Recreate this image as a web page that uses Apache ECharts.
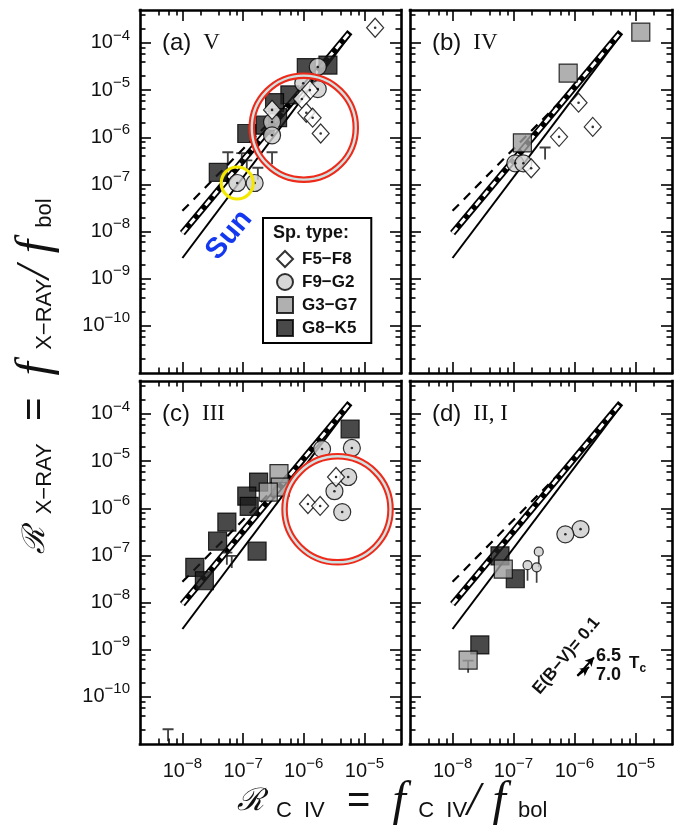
<!DOCTYPE html>
<html>
<head>
<meta charset="utf-8">
<script src="https://cdn.jsdelivr.net/npm/echarts@6/dist/echarts.min.js"></script>
<style>
  html, body { margin: 0; padding: 0; background: #fff; }
  #chart { width: 674px; height: 829px; }
</style>
</head>
<body>
<div id="chart"></div>
<script>
// ---- Axis ranges and tick labels (decades) ----
const xRange = [2e-9, 4e-5];
const yRange = [1e-11, 5e-4];
const xTickExponents = [-8, -7, -6, -5];
const yTickExponents = [-10, -9, -8, -7, -6, -5, -4];
const minorMultiples = [2, 4, 6, 8];

// ---- Spectral-type groups ----
const spTypes = ['F5−F8', 'F9−G2', 'G3−G7', 'G8−K5'];

// ---- (a) luminosity class V : [R_CIV, R_XRAY] ----
const aF5F8 = [[1.5e-5, 2.1e-4], [1.26e-6, 1.0e-5], [9.3e-7, 6.5e-6], [1.1e-6, 3.3e-6], [1.4e-6, 2.6e-6], [1.9e-6, 1.2e-6], [3.0e-7, 3.8e-6]];
const aF9G2 = [[1.7e-6, 3.1e-5], [9.8e-7, 1.4e-5], [1.7e-6, 1.05e-5], [3.0e-7, 2.1e-6], [3.0e-7, 1.1e-6], [8.0e-8, 1.07e-7], [1.55e-7, 1.07e-7]];
const aG3G7 = [];
const aG8K5 = [[1.1e-6, 3.0e-5], [2.5e-6, 3.4e-5], [5.9e-7, 7.9e-6], [3.3e-7, 5.4e-6], [3.7e-7, 2.6e-6], [2.3e-7, 1.8e-6], [1.15e-7, 1.2e-6], [3.9e-8, 1.8e-7]];
const aUpperLimits = [[5.6e-8, 4.9e-7], [9.5e-8, 4.7e-7], [3.0e-7, 4.9e-7], [1.15e-7, 3.3e-7], [1.75e-7, 2.3e-7]];
const sunPoint = [8.0e-8, 1.07e-7];

// ---- (b) class IV ----
const bF5F8 = [[1.17e-6, 5.4e-6], [2.0e-6, 1.66e-6], [5.6e-7, 1.02e-6], [1.95e-7, 2.2e-7]];
const bF9G2 = [[1.07e-7, 2.8e-7], [1.45e-7, 2.8e-7]];
const bG3G7 = [[1.23e-5, 1.7e-4], [7.9e-7, 2.3e-5], [1.4e-7, 7.6e-7]];
const bG8K5 = [];
const bUpperLimits = [[3.3e-7, 6.2e-7]];

// ---- (c) class III ----
const cF5F8 = [[3.4e-6, 4.6e-6], [1.17e-6, 1.23e-6], [1.86e-6, 1.12e-6]];
const cF9G2 = [[2.0e-6, 1.8e-5], [6.2e-6, 1.9e-5], [5.4e-6, 4.6e-6], [3.2e-6, 2.3e-6], [4.3e-6, 8.3e-7]];
const cG3G7 = [[3.9e-7, 5.4e-6], [4.1e-7, 2.8e-6], [2.6e-7, 2.2e-6]];
const cG8K5 = [[5.8e-6, 4.8e-5], [1.8e-7, 3.6e-6], [1.15e-7, 1.8e-6], [1.26e-7, 1.1e-6], [5.4e-8, 5.1e-7], [3.8e-8, 2.0e-7], [1.7e-7, 1.23e-7], [1.6e-8, 5.6e-8], [2.3e-8, 2.9e-8]];
const cUpperLimits = [[5.4e-8, 1.17e-7], [6.5e-8, 1.0e-7], [5.8e-9, 2.1e-11]];

// ---- (d) classes II, I ----
const dF5F8 = [];
const dF9G2 = [[1.26e-6, 3.6e-7], [7.1e-7, 2.8e-7]];
const dF9G2Limits = [[2.6e-7, 1.2e-7], [1.7e-7, 6.2e-8], [2.4e-7, 5.6e-8]];
const dG3G7 = [[6.8e-8, 5.1e-8], [1.8e-8, 6.0e-10]];
const dG8K5 = [[6.0e-8, 9.8e-8], [1.07e-7, 3.2e-8], [2.8e-8, 1.26e-9]];
const dUpperLimits = [[1.8e-8, 6.0e-10]];

// ---- Fitted relations (same in every panel) ----
const fitSolid = [[1e-8, 2.75e-9], [5.6e-6, 1.4e-4]];
const fitBand = [[1e-8, 9.3e-9], [5.75e-6, 1.7e-4]];
const fitDashed = [[1e-8, 2.75e-8], [6.3e-7, 6.3e-6]];

// ---- Reddening vector E(B−V)=0.1 for Tc = 6.5 and 7.0 ----
const reddenStart = [1.12e-6, 2.8e-10];
const reddenEnd65 = [2.1e-6, 6.9e-10];
const reddenEnd70 = [1.74e-6, 4.3e-10];

const panelNames = [['(a)', 'V'], ['(b)', 'IV'], ['(c)', 'III'], ['(d)', 'II, I']];
const panelData = [
  { 'F5−F8': aF5F8, 'F9−G2': aF9G2, 'G3−G7': aG3G7, 'G8−K5': aG8K5, limits: aUpperLimits },
  { 'F5−F8': bF5F8, 'F9−G2': bF9G2, 'G3−G7': bG3G7, 'G8−K5': bG8K5, limits: bUpperLimits },
  { 'F5−F8': cF5F8, 'F9−G2': cF9G2, 'G3−G7': cG3G7, 'G8−K5': cG8K5, limits: cUpperLimits },
  { 'F5−F8': dF5F8, 'F9−G2': dF9G2, 'G3−G7': dG3G7, 'G8−K5': dG8K5, limits: dUpperLimits }
];

// ---------------------------------------------------------------
const LOG = Math.log10;
const toLog = pts => pts.map(([x, y]) => [LOG(x), LOG(y)]);

const grids = [
  { left: 140, top: 10, width: 261, height: 363 },
  { left: 410, top: 10, width: 262, height: 363 },
  { left: 140, top: 381, width: 261, height: 363 },
  { left: 410, top: 381, width: 262, height: 363 }
];

const symbolStyle = {
  'F5−F8': { symbol: 'diamond', size: [17, 19], color: '#ffffff' },
  'F9−G2': { symbol: 'circle', size: 17, color: '#cdcdcd' },
  'G3−G7': { symbol: 'rect', size: 18, color: '#9c9c9c' },
  'G8−K5': { symbol: 'rect', size: 18, color: '#1c1c1c' }
};
const LIMIT_PATH = 'path://M0,0 H12 V2 H0 Z M5,2 H7 V14 H5 Z';
const STEM_PATH = 'path://M0,0 H2 V10 H0 Z';

function minorTicks(lo, hi) {
  const out = [];
  for (let d = Math.floor(lo); d < hi; d++) {
    for (const m of minorMultiples) {
      const v = d + LOG(m);
      if (v > lo && v < hi) out.push(v);
    }
  }
  return out;
}

const X_MIN = LOG(xRange[0]), X_MAX = LOG(xRange[1]);
const Y_MIN = LOG(yRange[0]), Y_MAX = LOG(yRange[1]);
const xMinor = minorTicks(X_MIN, X_MAX);
const yMinor = minorTicks(Y_MIN, Y_MAX);

const expLabel = (show, exps, margin) => ({
  show,
  customValues: exps,
  margin,
  formatter: v => '{b|10}{s|−' + Math.abs(Math.round(v)) + '}',
  rich: {
    b: { fontFamily: 'Liberation Sans', fontSize: 20, color: '#111' },
    s: { fontFamily: 'Liberation Sans', fontSize: 15, color: '#111', padding: [0, 0, 15, 0] }
  }
});

const frameLine = { show: true, onZero: false, lineStyle: { color: '#000', width: 2.6, cap: 'square' } };
const tickStyle = { color: '#000', width: 1.6 };

function axisSet(dim, p, showLabels) {
  const isX = dim === 'x';
  const base = {
    gridIndex: p, type: 'value',
    min: isX ? X_MIN : Y_MIN, max: isX ? X_MAX : Y_MAX,
    splitLine: { show: false }
  };
  const majors = isX ? xTickExponents : yTickExponents;
  const minors = isX ? xMinor : yMinor;
  const sides = isX ? ['bottom', 'top'] : ['left', 'right'];
  const out = [];
  sides.forEach((side, si) => {
    out.push(Object.assign({}, base, {
      position: side,
      axisLine: frameLine,
      axisTick: { show: true, inside: true, length: 11, customValues: majors, lineStyle: tickStyle },
      axisLabel: si === 0 && showLabels ? expLabel(true, majors, isX ? 12 : 10) : { show: false }
    }));
    out.push(Object.assign({}, base, {
      position: side,
      axisLine: { show: false, onZero: false },
      axisTick: { show: true, inside: true, length: 5.5, customValues: minors, lineStyle: tickStyle },
      axisLabel: { show: false }
    }));
  });
  return out;
}

const xAxes = [], yAxes = [], series = [];
grids.forEach((g, p) => {
  xAxes.push(...axisSet('x', p, p >= 2));
  yAxes.push(...axisSet('y', p, p % 2 === 0));
  const ax = { xAxisIndex: p * 4, yAxisIndex: p * 4 };

  // fitted relations
  series.push(Object.assign({ type: 'line', data: toLog(fitSolid), symbol: 'none', silent: true, z: 2,
    lineStyle: { color: '#000', width: 2 } }, ax));
  series.push(Object.assign({ type: 'line', data: toLog(fitDashed), symbol: 'none', silent: true, z: 2,
    lineStyle: { color: '#000', width: 2.2, type: [9, 7] } }, ax));
  series.push(Object.assign({ type: 'line', data: toLog(fitBand), symbol: 'none', silent: true, z: 2,
    lineStyle: { color: '#000', width: 6.6, cap: 'butt' } }, ax));
  series.push(Object.assign({ type: 'line', data: toLog(fitBand), symbol: 'none', silent: true, z: 2,
    lineStyle: { color: '#fff', width: 3, type: [7, 5], cap: 'butt' } }, ax));

  // upper limits
  series.push(Object.assign({ type: 'scatter', name: 'upper limit', data: toLog(panelData[p].limits),
    symbol: LIMIT_PATH, symbolSize: [11, 13], symbolOffset: [0, 6], z: 4,
    itemStyle: { color: '#111' } }, ax));

  // stars by spectral type (squares first, diamonds on top)
  ['G8−K5', 'G3−G7', 'F9−G2', 'F5−F8'].forEach(t => {
    const st = symbolStyle[t];
    series.push(Object.assign({ type: 'scatter', name: t, data: toLog(panelData[p][t]),
      symbol: st.symbol, symbolSize: st.size, z: 5,
      itemStyle: { color: st.color, borderColor: '#000', borderWidth: 1.2 } }, ax));
    if (t === 'F5−F8' || t === 'F9−G2') {
      // small centre dot drawn in the open symbols
      series.push(Object.assign({ type: 'scatter', name: t, data: toLog(panelData[p][t]),
        symbol: 'circle', symbolSize: 2.6, z: 6, silent: true,
        itemStyle: { color: '#000' } }, ax));
    }
  });
});

// (d): upper-limit F9-G2 stars (circle with downward stem)
const axD = { xAxisIndex: 12, yAxisIndex: 12 };
series.push(Object.assign({ type: 'scatter', name: 'F9−G2', data: toLog(dF9G2Limits),
  symbol: STEM_PATH, symbolSize: [1.7, 11], symbolOffset: [0, 10], z: 4,
  itemStyle: { color: '#111' } }, axD));
series.push(Object.assign({ type: 'scatter', name: 'F9−G2', data: toLog(dF9G2Limits),
  symbol: 'circle', symbolSize: 9, z: 5,
  itemStyle: { color: '#cdcdcd', borderColor: '#000', borderWidth: 1.2 } }, axD));

// (d): reddening vectors
series.push(Object.assign({ type: 'line', data: [], silent: true,
  markLine: {
    silent: true, symbol: ['none', 'arrow'], symbolSize: [7, 9], label: { show: false },
    lineStyle: { color: '#000', width: 2, type: 'solid' },
    data: [
      [{ coord: [LOG(reddenStart[0]), LOG(reddenStart[1])] }, { coord: [LOG(reddenEnd65[0]), LOG(reddenEnd65[1])] }],
      [{ coord: [LOG(reddenStart[0]), LOG(reddenStart[1])] }, { coord: [LOG(reddenEnd70[0]), LOG(reddenEnd70[1])] }]
    ]
  } }, axD));

const option = {
  animation: false,
  backgroundColor: '#fff',
  grid: grids,
  xAxis: xAxes,
  yAxis: yAxes,
  legend: {
    data: spTypes,
    orient: 'vertical', left: 263, top: 218,
    padding: [32, 14, 6, 13],
    itemWidth: 16, itemHeight: 16, itemGap: 5,
    borderColor: '#000', borderWidth: 2, backgroundColor: '#fff',
    selectedMode: false,
    textStyle: { fontFamily: 'Liberation Sans', fontWeight: 'bold', fontSize: 17, color: '#111', padding: [0, 0, 0, 4] }
  },
  series
};

const chart = echarts.init(document.getElementById('chart'), null, { renderer: 'canvas' });
chart.setOption(option);

// ---- annotations ----
const toPx = (p, pt) => chart.convertToPixel({ gridIndex: p }, [LOG(pt[0]), LOG(pt[1])]);
const graphic = [];

// panel titles
panelNames.forEach(([tag, cls], p) => {
  graphic.push({
    type: 'text', left: grids[p].left + 22, top: grids[p].top + 21, z: 10,
    style: {
      text: '{p|' + tag + '}{r|' + cls + '}',
      rich: {
        p: { fontFamily: 'Liberation Sans', fontSize: 24, fill: '#111', padding: [0, 12, 0, 0] },
        r: { fontFamily: 'Liberation Serif', fontSize: 23, fill: '#111' }
      }
    }
  });
});

// legend title
graphic.push({ type: 'text', left: 273, top: 224, z: 20,
  style: { text: 'Sp. type:', fontFamily: 'Liberation Sans', fontWeight: 'bold', fontSize: 18, fill: '#111' } });

// highlight rings
[{ p: 0, at: [1.0e-6, 1.6e-6], r: 52 }, { p: 2, at: [3.6e-6, 9.5e-7], r: 53 }].forEach(h => {
  const c = toPx(h.p, h.at);
  graphic.push({ type: 'circle', shape: { cx: c[0], cy: c[1], r: h.r }, z: 30, silent: true,
    style: { fill: 'none', stroke: '#ee2a1a', lineWidth: 6.5 } });
  graphic.push({ type: 'circle', shape: { cx: c[0], cy: c[1], r: h.r }, z: 31, silent: true,
    style: { fill: 'none', stroke: '#cfe3e3', lineWidth: 2.4 } });
});

// the Sun
const sunPx = toPx(0, sunPoint);
graphic.push({ type: 'circle', shape: { cx: sunPx[0], cy: sunPx[1], r: 16 }, z: 30, silent: true,
  style: { fill: 'none', stroke: '#f5e800', lineWidth: 3.2 } });
graphic.push({ type: 'text', x: sunPx[0] - 8, y: sunPx[1] + 52, rotation: 50 * Math.PI / 180, z: 30,
  style: { text: 'Sun', fontFamily: 'Liberation Sans', fontWeight: 'bold', fontSize: 29, fill: '#1438f0',
    align: 'center', verticalAlign: 'middle' } });

// reddening annotation in (d)
const rStart = toPx(3, reddenStart);
graphic.push({ type: 'text', x: rStart[0] - 11, y: rStart[1] - 20, rotation: 50 * Math.PI / 180, z: 10,
  style: { text: 'E(B−V)= 0.1', fontFamily: 'Liberation Sans', fontWeight: 'bold', fontSize: 17, fill: '#111',
    align: 'center', verticalAlign: 'middle' } });
const r65 = toPx(3, reddenEnd65);
graphic.push({ type: 'text', left: r65[0] + 2, top: r65[1] - 11, z: 10,
  style: { text: '6.5\n7.0', fontFamily: 'Liberation Sans', fontWeight: 'bold', fontSize: 18, lineHeight: 19, fill: '#111' } });
graphic.push({ type: 'text', left: r65[0] + 35, top: r65[1] - 2, z: 10,
  style: { text: '{t|T}{c|c}',
    rich: { t: { fontFamily: 'Liberation Sans', fontWeight: 'bold', fontSize: 17, fill: '#111' },
            c: { fontFamily: 'Liberation Sans', fontWeight: 'bold', fontSize: 12, fill: '#111', padding: [9, 0, 0, 0] } } } });

// axis titles
const titleRich = {
  R: { fontFamily: 'DejaVu Serif', fontStyle: 'italic', fontSize: 31, fill: '#111' },
  s: { fontFamily: 'Liberation Sans', fontSize: 22, fill: '#111', padding: [18, 0, 0, 0] },
  e: { fontFamily: 'Liberation Sans', fontSize: 40, fill: '#111' },
  f: { fontFamily: 'Liberation Serif', fontStyle: 'italic', fontSize: 48, fill: '#111' }
};
graphic.push({ type: 'text', x: 36, y: 376, rotation: Math.PI / 2, z: 10,
  style: { text: '{R|ℛ}{s|  X−RAY}{e|  =  }{f|f}{s|  X−RAY}{f|/ f}{s|  bol}', rich: titleRich,
    align: 'center', verticalAlign: 'middle' } });
graphic.push({ type: 'text', x: 392, y: 802, z: 10,
  style: { text: '{R|ℛ}{s|  C  IV}{e|  =  }{f|f}{s|  C  IV}{f|/ f}{s|  bol}', rich: titleRich,
    align: 'center', verticalAlign: 'middle' } });

chart.setOption({ graphic });
</script>
</body>
</html>
